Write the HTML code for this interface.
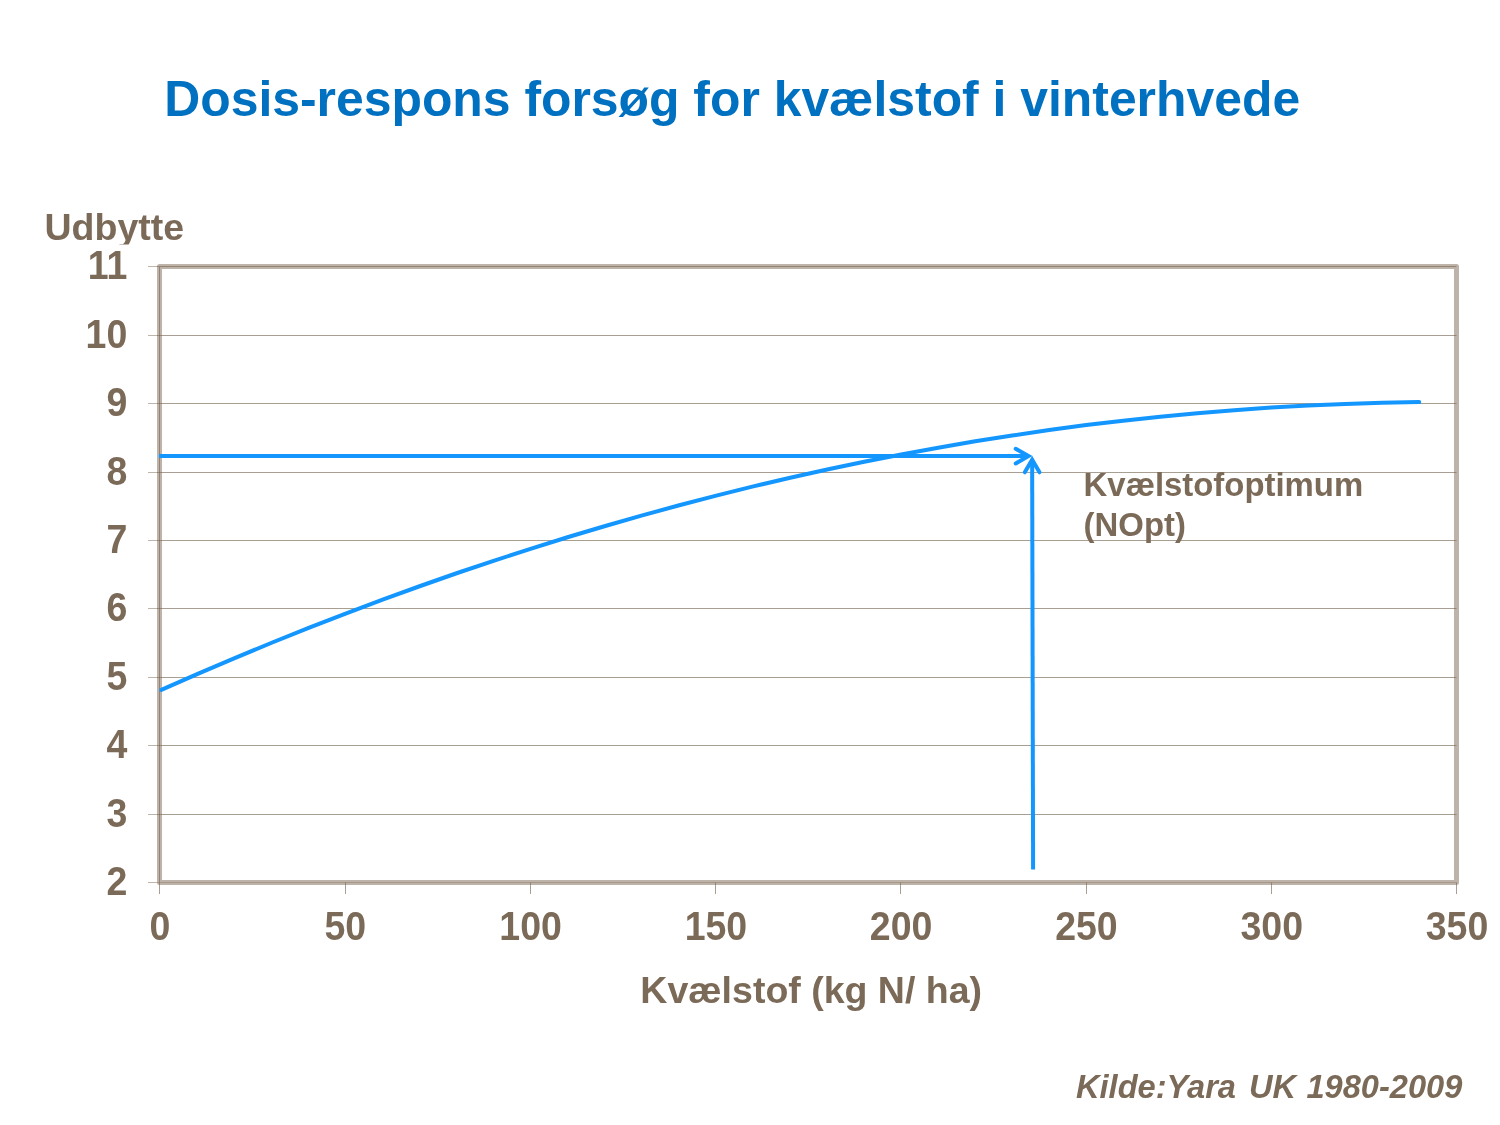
<!DOCTYPE html>
<html lang="da"><head><meta charset="utf-8"><title>Dosis-respons forsøg for kvælstof i vinterhvede</title>
<style>
html,body{margin:0;padding:0;background:#fff;}
body{width:1500px;height:1125px;overflow:hidden;position:relative;}
svg{position:absolute;left:0;top:0;display:block;}
text{font-family:"Liberation Sans",Arial,Helvetica,sans-serif;font-weight:bold;}
.b{fill:#7b6a58}
.g{stroke:#7b6a58;stroke-width:1;stroke-opacity:.65}
</style></head><body>
<svg width="1500" height="1125" viewBox="0 0 1500 1125">
<rect width="1500" height="1125" fill="#fff"/>

<text x="164.2" y="115.6" font-size="49.87" fill="#0070c0">Dosis-respons forsøg for kvælstof i vinterhvede</text>
<clipPath id="cu"><rect x="0" y="190" width="300" height="54.6"/></clipPath>
<text class="b" x="44.5" y="239.8" font-size="37.5" clip-path="url(#cu)">Udbytte</text>
<rect x="159.5" y="266.5" width="1297.0" height="616.0" fill="none" stroke="#beb3a8" stroke-width="5" stroke-linejoin="round"/>
<line class="g" x1="148" x2="157" y1="266.5" y2="266.5" style="stroke-opacity:.5"/>
<line class="g" x1="157" x2="1456.5" y1="266.5" y2="266.5"/>
<line class="g" x1="148" x2="157" y1="335.5" y2="335.5" style="stroke-opacity:.5"/>
<line class="g" x1="157" x2="1456.5" y1="335.5" y2="335.5"/>
<line class="g" x1="148" x2="157" y1="403.5" y2="403.5" style="stroke-opacity:.5"/>
<line class="g" x1="157" x2="1456.5" y1="403.5" y2="403.5"/>
<line class="g" x1="148" x2="157" y1="472.5" y2="472.5" style="stroke-opacity:.5"/>
<line class="g" x1="157" x2="1456.5" y1="472.5" y2="472.5"/>
<line class="g" x1="148" x2="157" y1="540.5" y2="540.5" style="stroke-opacity:.5"/>
<line class="g" x1="157" x2="1456.5" y1="540.5" y2="540.5"/>
<line class="g" x1="148" x2="157" y1="608.5" y2="608.5" style="stroke-opacity:.5"/>
<line class="g" x1="157" x2="1456.5" y1="608.5" y2="608.5"/>
<line class="g" x1="148" x2="157" y1="677.5" y2="677.5" style="stroke-opacity:.5"/>
<line class="g" x1="157" x2="1456.5" y1="677.5" y2="677.5"/>
<line class="g" x1="148" x2="157" y1="745.5" y2="745.5" style="stroke-opacity:.5"/>
<line class="g" x1="157" x2="1456.5" y1="745.5" y2="745.5"/>
<line class="g" x1="148" x2="157" y1="814.5" y2="814.5" style="stroke-opacity:.5"/>
<line class="g" x1="157" x2="1456.5" y1="814.5" y2="814.5"/>
<line class="g" x1="148" x2="157" y1="882.5" y2="882.5" style="stroke-opacity:.5"/>
<line class="g" x1="157" x2="1456.5" y1="882.5" y2="882.5" style="stroke-opacity:.35"/>
<line class="g" x1="159.5" x2="159.5" y1="267.0" y2="894"/>
<line class="g" x1="345.5" x2="345.5" y1="882.5" y2="894"/>
<line class="g" x1="530.5" x2="530.5" y1="882.5" y2="894"/>
<line class="g" x1="715.5" x2="715.5" y1="882.5" y2="894"/>
<line class="g" x1="900.5" x2="900.5" y1="882.5" y2="894"/>
<line class="g" x1="1086.5" x2="1086.5" y1="882.5" y2="894"/>
<line class="g" x1="1271.5" x2="1271.5" y1="882.5" y2="894"/>
<line class="g" x1="1456.5" x2="1456.5" y1="882.5" y2="894"/>
<text class="b" transform="translate(127.3 279.2) scale(1 1.06)" font-size="37.5" text-anchor="end">11</text>
<text class="b" transform="translate(127.3 348.2) scale(1 1.06)" font-size="37.5" text-anchor="end">10</text>
<text class="b" transform="translate(127.3 416.2) scale(1 1.06)" font-size="37.5" text-anchor="end">9</text>
<text class="b" transform="translate(127.3 485.2) scale(1 1.06)" font-size="37.5" text-anchor="end">8</text>
<text class="b" transform="translate(127.3 553.2) scale(1 1.06)" font-size="37.5" text-anchor="end">7</text>
<text class="b" transform="translate(127.3 621.2) scale(1 1.06)" font-size="37.5" text-anchor="end">6</text>
<text class="b" transform="translate(127.3 690.2) scale(1 1.06)" font-size="37.5" text-anchor="end">5</text>
<text class="b" transform="translate(127.3 758.2) scale(1 1.06)" font-size="37.5" text-anchor="end">4</text>
<text class="b" transform="translate(127.3 827.2) scale(1 1.06)" font-size="37.5" text-anchor="end">3</text>
<text class="b" transform="translate(127.3 895.2) scale(1 1.06)" font-size="37.5" text-anchor="end">2</text>
<text class="b" transform="translate(160.0 940.0) scale(1 1.06)" font-size="37.5" text-anchor="middle">0</text>
<text class="b" transform="translate(345.3 940.0) scale(1 1.06)" font-size="37.5" text-anchor="middle">50</text>
<text class="b" transform="translate(530.6 940.0) scale(1 1.06)" font-size="37.5" text-anchor="middle">100</text>
<text class="b" transform="translate(715.9 940.0) scale(1 1.06)" font-size="37.5" text-anchor="middle">150</text>
<text class="b" transform="translate(901.1 940.0) scale(1 1.06)" font-size="37.5" text-anchor="middle">200</text>
<text class="b" transform="translate(1086.4 940.0) scale(1 1.06)" font-size="37.5" text-anchor="middle">250</text>
<text class="b" transform="translate(1271.7 940.0) scale(1 1.06)" font-size="37.5" text-anchor="middle">300</text>
<text class="b" transform="translate(1457.0 940.0) scale(1 1.06)" font-size="37.5" text-anchor="middle">350</text>
<text class="b" x="811.2" y="1003.4" font-size="37.5" text-anchor="middle">Kvælstof (kg N/ ha)</text>
<polyline points="161.3,689.9 198.3,673.6 235.3,657.8 272.3,642.5 309.3,627.7 346.3,613.3 383.3,599.4 420.3,586.0 457.3,573.0 494.3,560.6 531.3,548.6 568.3,537.0 605.3,526.0 642.3,515.4 679.3,505.3 716.3,495.6 753.3,486.4 790.2,477.7 827.2,469.5 864.2,461.8 901.2,454.5 938.2,447.7 975.2,441.3 1012.2,435.5 1049.2,430.1 1086.2,425.1 1123.2,420.7 1160.2,416.7 1197.2,413.2 1234.2,410.2 1271.2,407.6 1308.2,405.5 1345.2,403.9 1382.2,402.8 1419.2,402.1" fill="none" stroke="#1496ff" stroke-width="4" stroke-linejoin="round" stroke-linecap="round"/>
<g fill="none" stroke="#1496ff" stroke-width="4" stroke-linecap="round" stroke-linejoin="miter" stroke-miterlimit="10">
<path d="M159 456 L1028.5 456" stroke-linecap="butt"/>
<path d="M1015.7 448.8 L1028.5 456.1 L1015.7 463.5"/>
<path d="M1033.1 869.5 L1032.15 459.7" stroke-linecap="butt"/>
<path d="M1024.8 472.3 L1032.15 459.7 L1039.5 472.3"/>
</g>
<text class="b" x="1083.6" y="495.7" font-size="32.9">Kvælstofoptimum</text>
<text class="b" x="1083.6" y="535.8" font-size="32.9">(NOpt)</text>
<text class="b" y="1097.8" font-size="32.6" font-style="italic"><tspan x="1076">Kilde:Yara</tspan> <tspan x="1249">UK</tspan> <tspan x="1462.3" text-anchor="end">1980-2009</tspan></text>
</svg></body></html>
